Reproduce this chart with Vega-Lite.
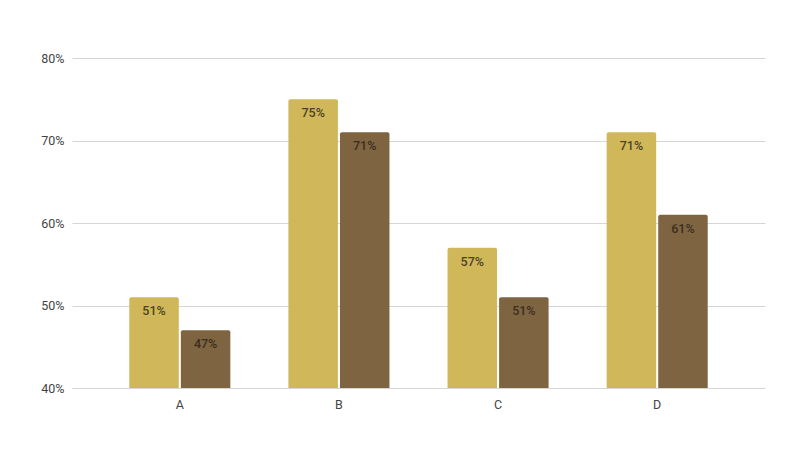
{
  "$schema": "https://vega.github.io/schema/vega-lite/v6.json",
  "width": 693,
  "height": 330,
  "autosize": {"type": "none"},
  "padding": {"left": 72, "top": 58, "right": 35, "bottom": 62},
  "background": "white",
  "config": {
    "view": {"stroke": null},
    "font": "Roboto"
  },
  "data": {
    "values": [
      {"cat": "A", "series": "Series 1", "value": 0.51},
      {"cat": "A", "series": "Series 2", "value": 0.47},
      {"cat": "B", "series": "Series 1", "value": 0.75},
      {"cat": "B", "series": "Series 2", "value": 0.71},
      {"cat": "C", "series": "Series 1", "value": 0.57},
      {"cat": "C", "series": "Series 2", "value": 0.51},
      {"cat": "D", "series": "Series 1", "value": 0.71},
      {"cat": "D", "series": "Series 2", "value": 0.61}
    ]
  },
  "encoding": {
    "x": {
      "field": "cat", "type": "nominal", "title": null,
      "scale": {"paddingInner": 0.365, "paddingOuter": 0.36},
      "axis": {"labelAngle": 0, "domain": false, "ticks": false, "labelFontSize": 12.5, "labelColor": "#444", "labelPadding": 10, "labelFont": "Roboto"}
    },
    "xOffset": {"field": "series", "type": "nominal", "scale": {"paddingInner": 0.04}},
    "y": {
      "field": "value", "type": "quantitative", "title": null,
      "scale": {"domain": [0.4, 0.8], "zero": false, "nice": false},
      "axis": {"format": ".0%", "values": [0.4, 0.5, 0.6, 0.7, 0.8], "domain": false, "ticks": false, "gridColor": "#d6d6d6", "labelFontSize": 12.5, "labelColor": "#444", "labelPadding": 8, "labelFont": "Roboto"}
    }
  },
  "layer": [
    {
      "mark": {"type": "bar", "clip": true, "cornerRadiusTopLeft": 2, "cornerRadiusTopRight": 2},
      "encoding": {
        "y2": {"datum": 0.4},
        "color": {
          "field": "series", "type": "nominal", "legend": null,
          "scale": {"domain": ["Series 1", "Series 2"], "range": ["#d0b75a", "#7f6441"]}
        }
      }
    },
    {
      "mark": {"type": "text", "baseline": "top", "dy": 8, "fontSize": 12.5, "fontWeight": 500},
      "encoding": {
        "text": {"field": "value", "type": "quantitative", "format": ".0%"},
        "color": {
          "field": "series", "type": "nominal", "legend": null,
          "scale": {"domain": ["Series 1", "Series 2"], "range": ["#4a4222", "#3a2e1e"]}
        }
      }
    }
  ],
  "resolve": {"scale": {"color": "independent"}}
}
